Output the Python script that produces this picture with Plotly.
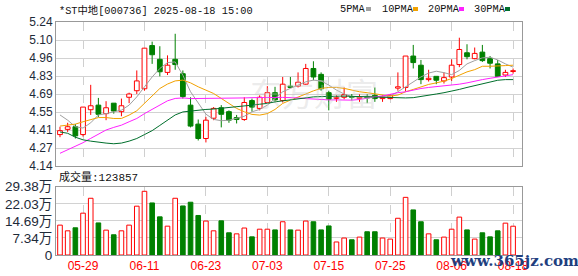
import plotly.graph_objects as go

dates = ["05-26","05-27","05-28","05-29","05-30","06-03","06-04","06-05","06-06","06-09",
         "06-10","06-11","06-12","06-13","06-16","06-17","06-18","06-19","06-20","06-23",
         "06-24","06-25","06-26","06-27","06-30","07-01","07-02","07-03","07-04","07-07",
         "07-08","07-09","07-10","07-11","07-14","07-15","07-16","07-17","07-18","07-21",
         "07-22","07-23","07-24","07-25","07-28","07-29","07-30","07-31","08-01","08-04",
         "08-05","08-06","08-07","08-08","08-11","08-12","08-13","08-14","08-15","08-18"]

open_ = [4.38,4.42,4.44,4.38,4.57,4.605,4.54,4.62,4.555,4.665,
         4.715,4.73,5.06,4.955,4.855,4.955,4.845,4.605,4.46,4.35,
         4.505,4.585,4.555,4.51,4.495,4.64,4.58,4.625,4.70,4.64,
         4.75,4.75,4.765,4.885,4.84,4.70,4.655,4.665,4.67,4.655,
         4.67,4.68,4.655,4.655,4.735,4.74,4.98,4.91,4.80,4.825,
         4.79,4.82,4.915,5.005,4.96,5.01,4.96,4.92,4.835,4.862]
high = [4.44,4.47,4.46,4.59,4.76,4.66,4.635,4.62,4.655,4.70,
        4.87,5.04,5.09,5.055,4.985,5.15,4.87,4.665,4.495,4.515,
        4.59,4.605,4.565,4.53,4.665,4.655,4.68,4.75,4.745,4.82,
        4.82,4.855,4.92,4.94,4.855,4.715,4.68,4.74,4.69,4.69,
        4.69,4.74,4.68,4.69,4.855,4.98,5.065,4.95,4.875,4.825,
        4.855,4.955,5.12,5.07,5.045,5.065,4.98,4.95,4.875,4.885]
low = [4.36,4.40,4.35,4.365,4.53,4.515,4.49,4.54,4.52,4.62,
       4.69,4.715,4.92,4.825,4.835,4.875,4.655,4.435,4.335,4.32,
       4.49,4.435,4.47,4.465,4.485,4.555,4.565,4.62,4.625,4.625,
       4.74,4.74,4.76,4.795,4.715,4.565,4.63,4.65,4.64,4.63,
       4.62,4.63,4.63,4.65,4.715,4.71,4.885,4.765,4.785,4.765,
       4.77,4.79,4.895,4.955,4.955,4.935,4.885,4.82,4.82,4.845]
close = [4.41,4.44,4.37,4.59,4.60,4.535,4.585,4.56,4.60,4.69,
         4.79,5.04,4.99,4.86,4.91,4.915,4.67,4.445,4.35,4.49,
         4.58,4.535,4.49,4.495,4.625,4.59,4.665,4.70,4.645,4.765,
         4.74,4.78,4.885,4.82,4.73,4.65,4.665,4.685,4.665,4.665,
         4.66,4.655,4.665,4.68,4.745,4.98,4.93,4.80,4.81,4.795,
         4.815,4.91,5.03,4.975,5.00,4.945,4.925,4.825,4.855,4.868]

ma5 = [4.53,4.49,4.44,4.43,4.47,4.53,4.54,4.555,4.567,4.605,
       4.668,4.745,4.82,4.885,4.93,4.935,4.833,4.707,4.618,4.536,
       4.496,4.486,4.49,4.503,4.52,4.554,4.572,4.605,4.656,4.707,
       4.733,4.758,4.783,4.796,4.79,4.758,4.72,4.69,4.67,4.67,
       4.674,4.67,4.67,4.674,4.707,4.745,4.783,4.82,4.85,4.864,
       4.853,4.838,4.87,4.92,4.945,4.966,4.971,4.95,4.92,4.895]
ma10 = [4.445,4.452,4.46,4.478,4.496,4.51,4.51,4.503,4.503,4.529,
        4.562,4.618,4.681,4.732,4.766,4.79,4.796,4.775,4.745,4.72,
        4.694,4.656,4.618,4.58,4.554,4.534,4.529,4.54,4.572,4.618,
        4.643,4.664,4.69,4.714,4.733,4.74,4.74,4.733,4.72,4.707,
        4.70,4.69,4.682,4.674,4.682,4.707,4.725,4.745,4.763,4.775,
        4.788,4.808,4.833,4.859,4.876,4.902,4.902,4.902,4.907,4.91]
ma20 = [4.237,4.262,4.293,4.318,4.351,4.384,4.415,4.435,4.452,4.478,
        4.503,4.54,4.572,4.605,4.638,4.656,4.66,4.655,4.655,4.655,
        4.658,4.66,4.66,4.66,4.66,4.662,4.664,4.664,4.664,4.664,
        4.664,4.66,4.655,4.65,4.648,4.645,4.645,4.643,4.643,4.648,
        4.66,4.668,4.675,4.69,4.70,4.707,4.72,4.732,4.74,4.745,
        4.752,4.758,4.765,4.775,4.79,4.80,4.81,4.82,4.83,4.838]
ma30 = [4.40,4.39,4.36,4.34,4.33,4.32,4.315,4.31,4.315,4.33,
        4.35,4.38,4.41,4.45,4.49,4.53,4.553,4.56,4.567,4.572,
        4.575,4.58,4.585,4.59,4.598,4.605,4.612,4.618,4.63,4.638,
        4.645,4.655,4.664,4.668,4.67,4.672,4.674,4.674,4.672,4.67,
        4.668,4.665,4.662,4.66,4.66,4.66,4.662,4.67,4.68,4.69,
        4.70,4.71,4.725,4.74,4.755,4.77,4.785,4.795,4.80,4.80]

# volume in 万 (10k), direction as drawn (red = up)
volume = [12.85,10.4,11.7,18.0,24.4,13.8,10.7,8.7,10.4,12.85,
          21.0,27.4,22.4,16.4,12.4,24.4,21.1,22.7,17.0,14.6,
          10.4,14.7,9.55,9.1,11.6,7.8,11.1,11.1,10.8,14.3,
          10.8,10.7,14.6,14.3,10.8,12.5,5.6,7.3,6.55,7.7,
          10.0,10.0,7.3,6.85,15.8,24.8,19.4,14.3,9.1,6.55,
          7.7,11.1,16.3,10.8,6.85,9.55,7.8,10.4,13.7,12.3857]
vol_up = [1,1,0,1,1,0,1,0,1,1,
          1,1,0,0,1,1,0,0,0,1,
          1,0,0,1,1,0,1,1,0,1,
          0,1,1,0,0,0,1,1,0,1,
          0,0,1,1,1,1,0,0,1,0,
          1,1,1,0,1,0,0,0,1,1]

tick_dates = ["05-29","06-11","06-23","07-03","07-15","07-25","08-06","08-18"]
price_ticks = [4.14,4.2775,4.415,4.5525,4.69,4.8275,4.965,5.1025,5.24]
price_labels = ["4.14","4.27","4.41","4.55","4.69","4.83","4.96","5.10","5.24"]
vol_ticks = [0,7.345,14.69,22.035,29.38]
vol_labels = ["0","7.34万","14.69万","22.03万","29.38万"]

RED = "#ff0000"
GREEN = "#008000"
W, H = 578, 276
ML, MR, MT, MB = 56, 56, 22, 21
PW, PH = W - ML - MR, H - MT - MB

def px(x):
    return (x - ML) / PW

def py(y):
    return (H - MB - y) / PH

fig = go.Figure()

up = [i for i in range(len(dates)) if close[i] >= open_[i]]
dn = [i for i in range(len(dates)) if close[i] < open_[i]]

def wicks(idx):
    xs, ys = [], []
    for i in idx:
        top = max(open_[i], close[i]); bot = min(open_[i], close[i])
        xs += [dates[i], dates[i], None, dates[i], dates[i], None]
        ys += [high[i], top, None, bot, low[i], None]
    return xs, ys

for idx, col, fill in [(up, RED, "white"), (dn, GREEN, GREEN)]:
    fig.add_trace(go.Bar(
        x=[dates[i] for i in idx],
        y=[max(abs(close[i] - open_[i]), 0.005) for i in idx],
        base=[min(open_[i], close[i]) for i in idx],
        width=0.62, marker=dict(color=fill, line=dict(color=col, width=1)),
        xaxis="x", yaxis="y", showlegend=False, hoverinfo="skip"))
    wx, wy = wicks(idx)
    fig.add_trace(go.Scatter(x=wx, y=wy, mode="lines", line=dict(color=col, width=1),
                             xaxis="x", yaxis="y", showlegend=False, hoverinfo="skip"))

ma_cols = {"5PMA": "#a0a0a0", "10PMA": "#f2a100", "20PMA": "#ff20ff", "30PMA": "#006f2c"}
for name, vals in [("5PMA", ma5), ("10PMA", ma10), ("20PMA", ma20), ("30PMA", ma30)]:
    fig.add_trace(go.Scatter(x=dates, y=vals, mode="lines", line=dict(color=ma_cols[name], width=1),
                             xaxis="x", yaxis="y", showlegend=False, hoverinfo="skip"))

vu = [i for i in range(len(dates)) if vol_up[i]]
vd = [i for i in range(len(dates)) if not vol_up[i]]
for idx, col, fill in [(vu, RED, "white"), (vd, GREEN, GREEN)]:
    fig.add_trace(go.Bar(x=[dates[i] for i in idx], y=[volume[i] for i in idx],
                         width=0.6, marker=dict(color=fill, line=dict(color=col, width=1)),
                         xaxis="x2", yaxis="y2", showlegend=False, hoverinfo="skip"))

axis_common = dict(showline=True, mirror=True, linecolor="#999999", linewidth=1,
                   zeroline=False, automargin=False)
xr = [-0.52, 60.16]
fig.update_layout(
    width=W, height=H, margin=dict(l=ML, r=MR, t=MT, b=MB, autoexpand=False),
    paper_bgcolor="white", plot_bgcolor="white", barmode="overlay", showlegend=False,
    xaxis=dict(domain=[0, 1], anchor="y", type="category", categoryorder="array",
               categoryarray=dates, range=xr, tickvals=tick_dates, showticklabels=False,
               showgrid=True, gridcolor="#cfcfcf", griddash="dash", gridwidth=1, ticks="",
               **axis_common),
    xaxis2=dict(domain=[0, 1], anchor="y2", type="category", categoryorder="array",
                categoryarray=dates, range=xr, tickvals=tick_dates, ticktext=tick_dates,
                tickfont=dict(family="Liberation Sans", size=12, color=RED),
                showgrid=True, gridcolor="#cfcfcf", griddash="dash", gridwidth=1, ticks="",
                matches="x", **axis_common),
    yaxis=dict(domain=[py(166), 1], anchor="x", range=[4.14, 5.24], tickvals=price_ticks,
               ticktext=price_labels, showgrid=True, gridcolor="#d2d2d2", ticks="",
               tickfont=dict(family="Liberation Sans", size=12, color="#1e2a38"), **axis_common),
    yaxis2=dict(domain=[0, py(186.7)], anchor="x2", range=[0, 29.38], tickvals=vol_ticks,
                ticktext=vol_labels, showgrid=True, gridcolor="#d2d2d2", ticks="",
                tickfont=dict(family="Liberation Sans, Noto Sans CJK SC", size=13.5, color="#1e2a38"),
                **axis_common),
)

mono = "Liberation Mono, Noto Sans CJK SC"
ann = [
    dict(text="*ST中地[000736] 2025-08-18 15:00", x=px(57), y=py(10.5), xanchor="left",
         yanchor="middle", font=dict(family=mono, size=10.3, color="#111111")),
    dict(text="成交量:123857", x=px(57), y=py(177), xanchor="left", yanchor="middle",
         font=dict(family=mono, size=11, color="#111111")),
    dict(text="东方财富", x=px(314), y=py(92), xanchor="center", yanchor="middle",
         font=dict(family="Noto Sans CJK SC", size=32, color="rgba(200,200,200,0.35)")),
    dict(text="<b>www.365jz.com</b>", x=px(514), y=py(261), xanchor="center", yanchor="middle",
         font=dict(family="DejaVu Serif", size=15, color="#1f3f7f")),
]
legend_items = [("5PMA", 338, 366), ("10PMA", 380, 413), ("20PMA", 426, 459), ("30PMA", 472, 505)]
shapes = []
for name, tx, mx in legend_items:
    ann.append(dict(text=name, x=px(tx), y=py(9.5), xanchor="left", yanchor="middle",
                    font=dict(family=mono, size=10.3, color="#111111")))
    shapes.append(dict(type="rect", xref="paper", yref="paper", x0=px(mx), x1=px(mx + 5),
                       y0=py(11), y1=py(7), fillcolor=ma_cols[name], line=dict(width=0)))
for a in ann:
    a.update(xref="paper", yref="paper", showarrow=False)
fig.update_layout(annotations=ann, shapes=shapes)

fig.write_html("out.html")
